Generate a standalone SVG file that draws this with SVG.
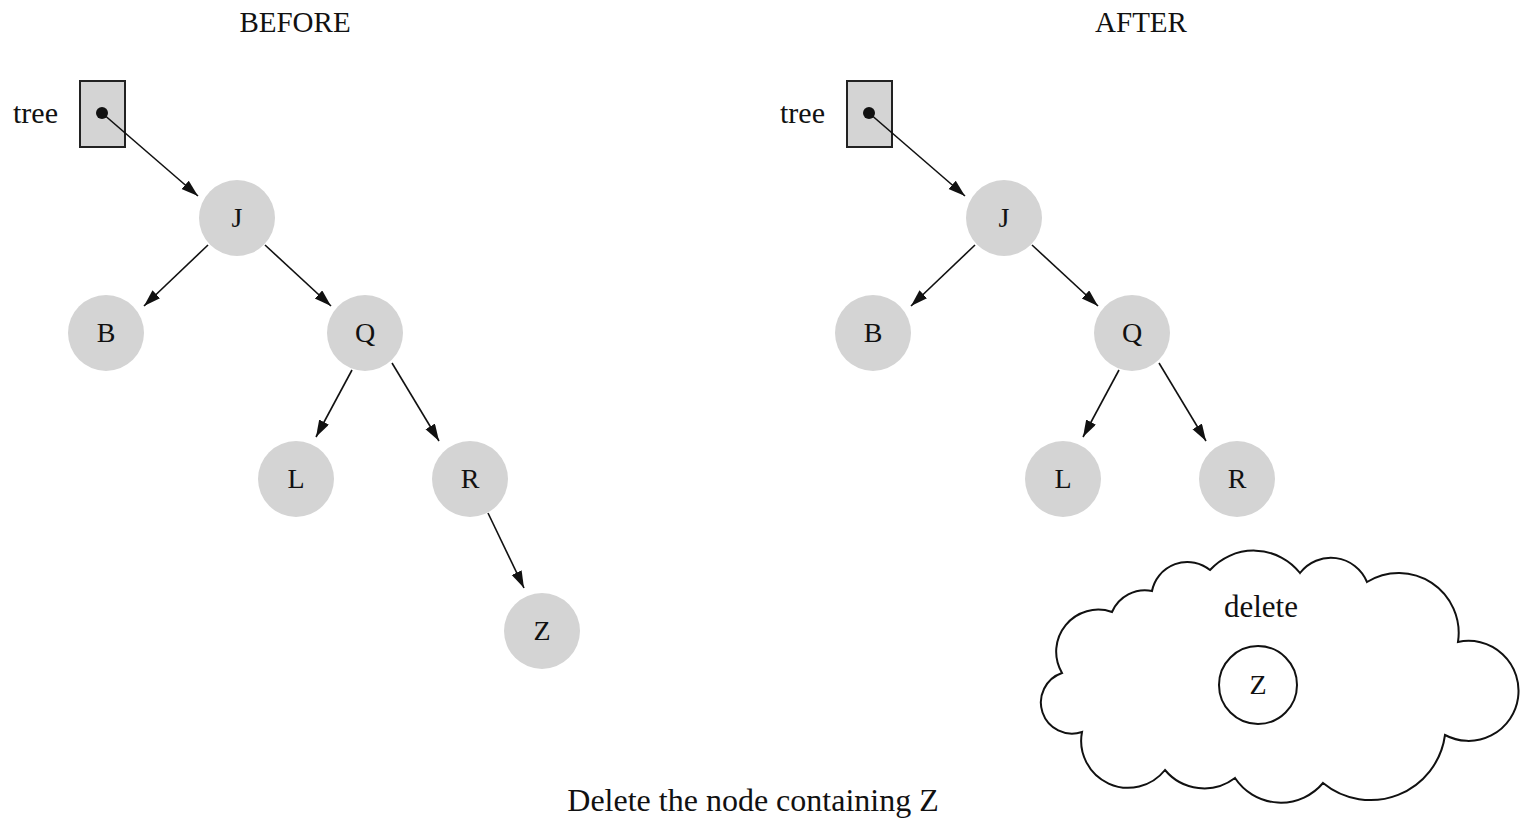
<svg xmlns="http://www.w3.org/2000/svg" width="1522" height="821" viewBox="0 0 1522 821">
  <style>
    .txt { font-family: "Liberation Serif", "DejaVu Serif", serif; fill: #111; }
    .title { font-size: 29px; text-anchor: middle; }
    .lbl { font-size: 28px; text-anchor: middle; }
    .ptr { font-size: 30px; }
    .word { font-size: 31px; text-anchor: middle; }
    .node { fill: #d4d4d4; }
    .box { fill: #d4d4d4; stroke: #222; stroke-width: 2; }
    .edge { stroke: #111; stroke-width: 1.6; fill: none; marker-end: url(#arrow); }
    .outline { fill: none; stroke: #111; stroke-width: 2; }
  </style>
  <defs>
    <marker id="arrow" markerUnits="userSpaceOnUse" markerWidth="18" markerHeight="12" refX="17" refY="5.5" orient="auto">
      <path d="M0,0 L17,5.5 L0,11 z" fill="#111"/>
    </marker>
  </defs>

  <rect width="1522" height="821" fill="#fff"/>

  <!-- headings -->
  <text class="txt title" x="295" y="32">BEFORE</text>
  <text class="txt title" x="1141" y="32">AFTER</text>

  <!-- BEFORE tree -->
  <g id="before-root">
    <text class="txt ptr" x="13" y="123">tree</text>
    <rect class="box" x="80" y="81" width="45" height="66"/>
    <circle cx="102" cy="113" r="6" fill="#111"/>
  </g>
  <g id="before-J"><circle class="node" cx="237" cy="218" r="38"/><text class="txt lbl" x="237" y="227">J</text></g>
  <g id="before-B"><circle class="node" cx="106" cy="333" r="38"/><text class="txt lbl" x="106" y="342">B</text></g>
  <g id="before-Q"><circle class="node" cx="365" cy="333" r="38"/><text class="txt lbl" x="365" y="342">Q</text></g>
  <g id="before-L"><circle class="node" cx="296" cy="479" r="38"/><text class="txt lbl" x="296" y="488">L</text></g>
  <g id="before-R"><circle class="node" cx="470" cy="479" r="38"/><text class="txt lbl" x="470" y="488">R</text></g>
  <g id="before-Z"><circle class="node" cx="542" cy="631" r="38"/><text class="txt lbl" x="542" y="640">Z</text></g>

  <!-- AFTER tree -->
  <g id="after-root">
    <text class="txt ptr" x="780" y="123">tree</text>
    <rect class="box" x="847" y="81" width="45" height="66"/>
    <circle cx="869" cy="113" r="6" fill="#111"/>
  </g>
  <g id="after-J"><circle class="node" cx="1004" cy="218" r="38"/><text class="txt lbl" x="1004" y="227">J</text></g>
  <g id="after-B"><circle class="node" cx="873" cy="333" r="38"/><text class="txt lbl" x="873" y="342">B</text></g>
  <g id="after-Q"><circle class="node" cx="1132" cy="333" r="38"/><text class="txt lbl" x="1132" y="342">Q</text></g>
  <g id="after-L"><circle class="node" cx="1063" cy="479" r="38"/><text class="txt lbl" x="1063" y="488">L</text></g>
  <g id="after-R"><circle class="node" cx="1237" cy="479" r="38"/><text class="txt lbl" x="1237" y="488">R</text></g>

  <!-- deleted node floating in a cloud -->
  <g id="deleted">
    <path class="outline" d="M1112,612
      A36,36 0 0 1 1152,591
      A36,36 0 0 1 1210,570
      A59,59 0 0 1 1300,573
      A39,39 0 0 1 1367,582
      A60,60 0 0 1 1458,642
      A50,50 0 1 1 1445,735
      A75,75 0 0 1 1323,783
      A55,55 0 0 1 1235,778
      A51,51 0 0 1 1165,770
      A47,47 0 0 1 1082,732
      A31,31 0 0 1 1062,673
      A42,42 0 0 1 1112,612 Z"/>
    <text class="txt word" x="1261" y="617">delete</text>
    <circle cx="1258" cy="685" r="39" fill="#fff" stroke="#111" stroke-width="2"/>
    <text class="txt lbl" x="1258" y="694">Z</text>
  </g>

  <!-- connectors -->
  <g id="connectors">
    <line class="edge" x1="102" y1="113" x2="198" y2="196"/>
    <line class="edge" x1="208" y1="245" x2="144" y2="306"/>
    <line class="edge" x1="265" y1="245" x2="331" y2="306"/>
    <line class="edge" x1="352" y1="370" x2="316" y2="437"/>
    <line class="edge" x1="392" y1="363" x2="439" y2="441"/>
    <line class="edge" x1="488" y1="513" x2="524" y2="588"/>

    <line class="edge" x1="869" y1="113" x2="965" y2="196"/>
    <line class="edge" x1="975" y1="245" x2="911" y2="306"/>
    <line class="edge" x1="1032" y1="245" x2="1098" y2="306"/>
    <line class="edge" x1="1119" y1="370" x2="1083" y2="437"/>
    <line class="edge" x1="1159" y1="363" x2="1206" y2="441"/>
  </g>

  <!-- caption -->
  <text class="txt" x="753" y="811" font-size="32" text-anchor="middle">Delete the node containing Z</text>
</svg>
